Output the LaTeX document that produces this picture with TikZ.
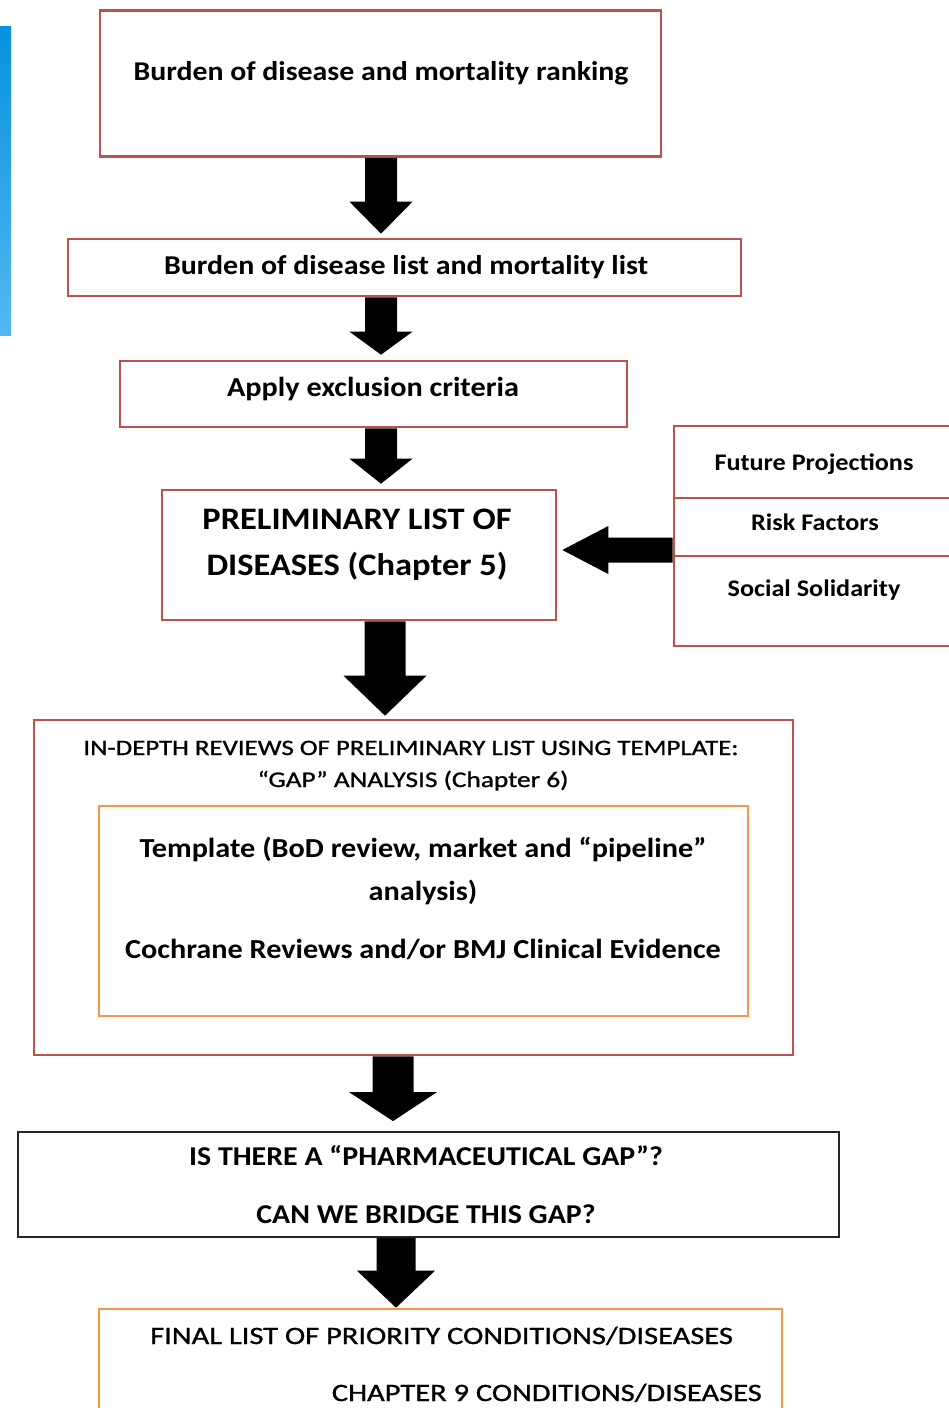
\documentclass[tikz,border=0pt]{standalone}
\usepackage{fontspec}
\setmainfont{Carlito}[FakeStretch=1.1]
\newfontfamily\regfont{Carlito}[FakeStretch=1.22,FakeBold=1]
\usetikzlibrary{calc}
\definecolor{boxred}{RGB}{192,80,77}
\definecolor{boxorange}{RGB}{247,150,70}
\definecolor{bartop}{RGB}{7,145,222}
\definecolor{barbot}{RGB}{82,185,241}
\tikzset{
  redbox/.style={draw=boxred,line width=2.6pt,inner sep=0pt,fill=none},
  orangebox/.style={draw=boxorange,line width=2.6pt,inner sep=0pt,fill=none},
  blackbox/.style={draw=black!85,line width=1.8pt,inner sep=0pt,fill=none},
  txt/.style={inner sep=0pt,anchor=base,text=black},
}
% vertical block arrow: #1 start, #2 tip, #3 shaft width, #4 head width, #5 head length
\newcommand{\vblk}[5]{%
  \fill[black] ($(#1)+({-(#3)/2},0)$) -- ($(#2)+({-(#3)/2},{-(#5)})$) -- ($(#2)+({-(#4)/2},{-(#5)})$) -- (#2)
    -- ($(#2)+({(#4)/2},{-(#5)})$) -- ($(#2)+({(#3)/2},{-(#5)})$) -- ($(#1)+({(#3)/2},0)$) -- cycle;}
% leftward block arrow
\newcommand{\hblk}[5]{%
  \fill[black] ($(#1)+(0,{-(#3)/2})$) -- ($(#2)+({#5},{-(#3)/2})$) -- ($(#2)+({#5},{-(#4)/2})$) -- (#2)
    -- ($(#2)+({#5},{(#4)/2})$) -- ($(#2)+({#5},{(#3)/2})$) -- ($(#1)+(0,{(#3)/2})$) -- cycle;}
\newcommand{\fs}[1]{\fontsize{#1}{#1}\selectfont}
\begin{document}
\begin{tikzpicture}[x=1pt,y=-1pt]
\useasboundingbox (0,0) rectangle (948,1408);
\fill[white] (0,0) rectangle (948,1408);
% blue bar
\shade[top color=bartop,bottom color=barbot] (0,26) rectangle (11,335);

% boxes
\node[redbox,minimum width=561pt,minimum height=146pt] (b1) at (380.5,83.5) {};
\node[redbox,minimum width=673pt,minimum height=57pt] (b2) at (404.5,267.5) {};
\node[redbox,minimum width=507pt,minimum height=66pt] (b3) at (373.5,394) {};
\node[redbox,minimum width=394pt,minimum height=130pt] (b4) at (359,555) {};
\node[redbox,minimum width=300pt,minimum height=220pt] (rb) at (824,536) {};
\coordinate (rl1) at (674,498);
\coordinate (rl2) at (674,556);
\draw[boxred,line width=2.6pt] (rl1) -- (rl1 -| rb.east);
\draw[boxred,line width=2.6pt] (rl2) -- (rl2 -| rb.east);
\node[redbox,minimum width=759pt,minimum height=335pt] (b5) at (413.5,887.5) {};
\node[orangebox,minimum width=649pt,minimum height=210pt] (bi) at (423.5,911) {};
\node[blackbox,minimum width=821pt,minimum height=105pt] (b6) at (428.5,1184.5) {};
\node[orangebox,minimum width=683pt,minimum height=120pt] (b7) at (440.5,1369) {};

% texts
\node[txt,font=\fs{27.1}\bfseries] (t1) at (381,80.6) {Burden of disease and mortality ranking};
\node[txt,font=\fs{27.2}\bfseries] (t2) at (406,274.6) {Burden of disease list and mortality list};
\node[txt,font=\fs{27.5}\bfseries] (t3) at (373,396.7) {Apply exclusion criteria};
\node[txt,font=\fs{31.3}\bfseries] (t4a) at (357,529) {PRELIMINARY LIST OF};
\node[txt,font=\fs{31.3}\bfseries] (t4b) at (357,575) {DISEASES (Chapter 5)};
\node[txt,font=\fs{23.8}\bfseries] (r1) at (814,470.5) {Future Projections};
\node[txt,font=\fs{23.8}\bfseries] (r2) at (815,530.5) {Risk Factors};
\node[txt,font=\fs{23.8}\bfseries] (r3) at (814,596.5) {Social Solidarity};
\node[txt,font=\regfont\fs{22}] (t5a) at (411,755) {IN-DEPTH REVIEWS OF PRELIMINARY LIST USING TEMPLATE:};
\node[txt,font=\regfont\fs{22.4}] (t5b) at (413,787) {“GAP” ANALYSIS (Chapter 6)};
\node[txt,font=\fs{27.5}\bfseries] (ti1) at (423,857.7) {Template (BoD review, market and “pipeline”};
\node[txt,font=\fs{27.5}\bfseries] (ti2) at (423,900.7) {analysis)};
\node[txt,font=\fs{27.5}\bfseries] (ti3) at (423,958.7) {Cochrane Reviews and/or BMJ Clinical Evidence};
\node[txt,font=\fs{27.2}\bfseries] (t6a) at (426,1165.6) {IS THERE A “PHARMACEUTICAL GAP”?};
\node[txt,font=\fs{27.2}\bfseries] (t6b) at (426,1223.6) {CAN WE BRIDGE THIS GAP?};
\node[txt,font=\regfont\fs{25},anchor=base west] (t7a) at (150,1344) {FINAL LIST OF PRIORITY CONDITIONS/DISEASES};
\node[txt,font=\regfont\fs{25},anchor=base east] (t7b) at (762,1401) {CHAPTER 9 CONDITIONS/DISEASES};

% arrow axes
\coordinate (ax1) at (381,0);
\coordinate (ax4) at (385,0);
\coordinate (ax5) at (393,0);
\coordinate (ax6) at (396,0);
\coordinate (ayl) at (0,550);
% arrows
\vblk{b1.south -| ax1}{$(b2.north -| ax1)+(0,-4)$}{32}{63}{32}
\vblk{b2.south -| ax1}{$(b3.north -| ax1)+(0,-5)$}{32}{63}{23}
\vblk{b3.south -| ax1}{$(b4.north -| ax1)+(0,-5)$}{32}{63}{25}
\vblk{b4.south -| ax4}{$(b5.north -| ax4)+(0,-3)$}{41}{83}{40}
\vblk{b5.south -| ax5}{$(b6.north -| ax5)+(0,-10)$}{41}{88}{29}
\vblk{b6.south -| ax6}{b7.north -| ax6}{39}{78}{37}
\hblk{rb.west |- ayl}{$(b4.east |- ayl)+(5,0)$}{25}{48}{46}
\end{tikzpicture}
\end{document}
